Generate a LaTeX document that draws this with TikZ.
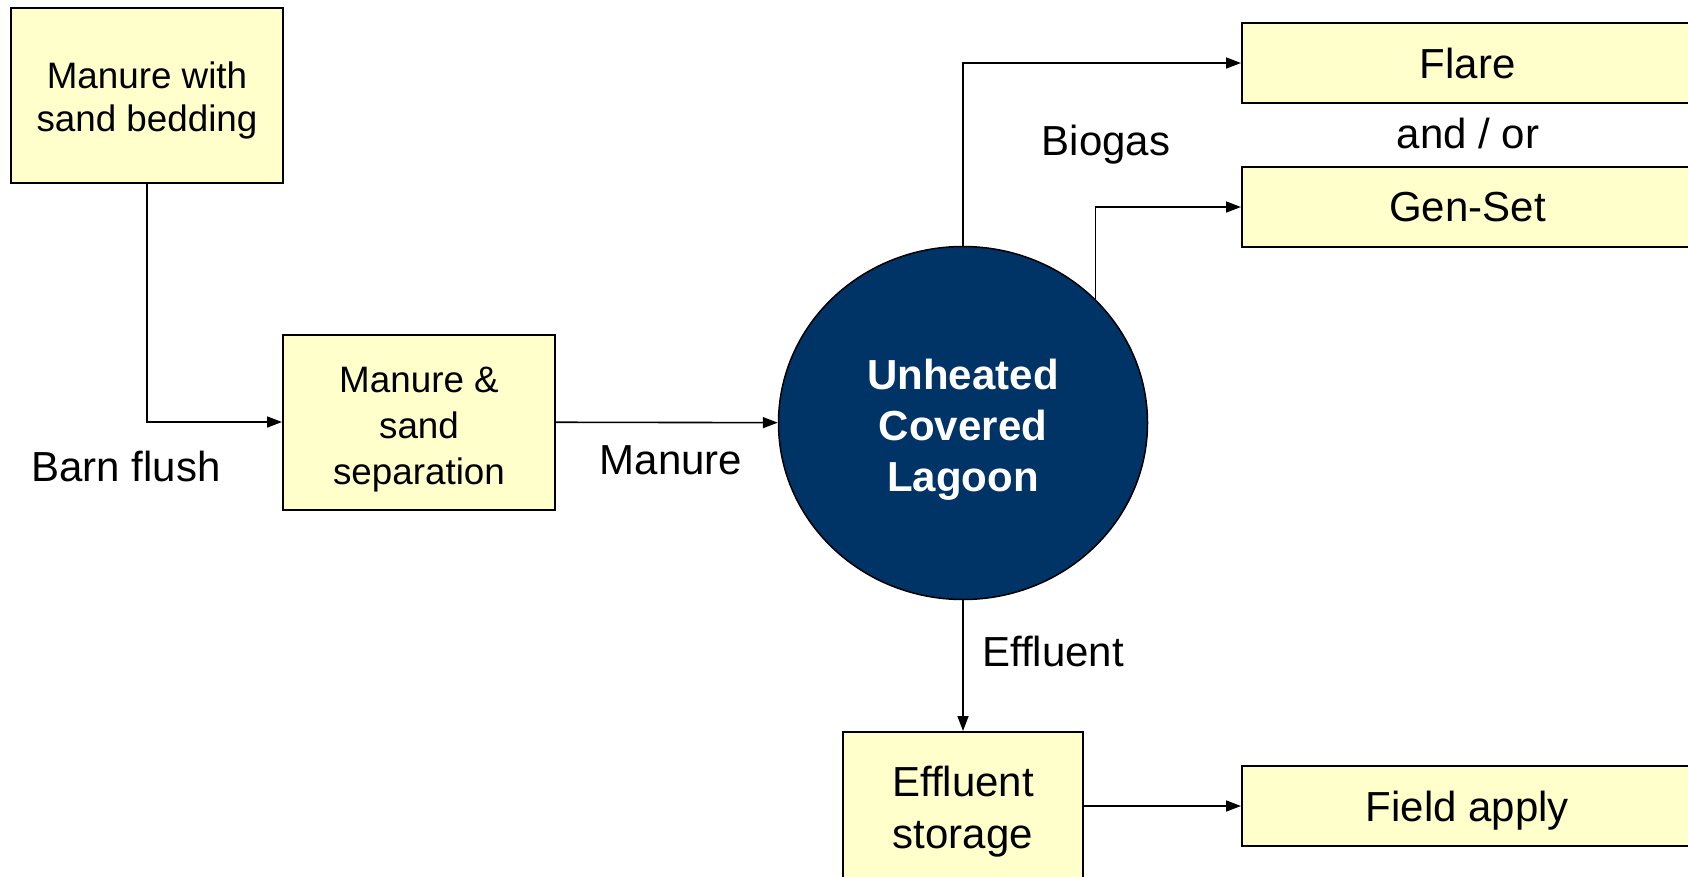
\documentclass[tikz,border=0pt]{standalone}
\usepackage{fontspec}
\setmainfont{Liberation Sans}
\usetikzlibrary{arrows.meta, shapes.geometric}
\definecolor{boxfill}{HTML}{FFFFCC}
\definecolor{pondblue}{HTML}{003366}
\newcommand{\capgap}[1]{\rule{0pt}{#1}}

\begin{document}
\begin{tikzpicture}[x=1pt,y=-1pt,>={Triangle[length=15pt,width=11pt]},line width=1.6pt,
  box node/.style={rectangle,fill=boxfill,draw,line width=2pt,align=center,inner sep=0pt,font=\fontsize{36.8}{44}\selectfont},
  wide node/.style={box node,minimum width=451pt,minimum height=80pt,text depth=0pt,font=\fontsize{42}{51}\selectfont},
  pond node/.style={ellipse,fill=pondblue,draw,line width=1.5pt,minimum width=369pt,minimum height=353pt,inner sep=0pt,align=center,text=white,font=\fontsize{42}{51}\selectfont\bfseries},
  tag node/.style={font=\fontsize{42}{51}\selectfont,inner sep=0pt}]
  \useasboundingbox[fill=white] (0,0) rectangle (1688,876);
  \clip (0,0) rectangle (1688,876);
  \node[box node,minimum width=272pt,minimum height=175pt,font=\fontsize{36.8}{43}\selectfont] (barn) at (147,95) {\capgap{38pt}Manure with\\sand bedding};
  \node[box node,minimum width=272pt,minimum height=175pt,font=\fontsize{36.8}{46}\selectfont] (sep) at (419,422) {\capgap{40pt}Manure \&\\sand\\separation};
  \node[pond node] (lagoon) at (963,423) {\capgap{44pt}Unheated\\Covered\\Lagoon};
  \node[wide node] (flare) at (1467.5,63) {Flare};
  \node[wide node] (genset) at (1467.5,207) {Gen-Set};
  \node[box node,minimum width=240pt,minimum height=148pt,font=\fontsize{42}{52}\selectfont] (storage) at (963,806) {\capgap{42pt}Effluent\\storage};
  \node[wide node] (field) at (1467.5,806) {Field apply};
  % flow labels
  \node[tag node] (flush) at (126,466) {Barn flush};
  \node[tag node] (manure) at (671,460) {Manure};
  \node[tag node] (biogas) at (1106,144.5) {Biogas};
  \node[tag node] (andor) at (1468,133) {and / or};
  \node[tag node] (effluent) at (1053,651) {Effluent};
  % connectors
  \draw[->] (barn) |- (sep);
  \draw[->] (sep) -- (lagoon);
  \draw[->] (lagoon) |- (flare);
  \draw[->] (lagoon.43) |- (genset);
  \draw[->] (lagoon) -- (storage);
  \draw[->] (storage) -- (field);
\end{tikzpicture}
\end{document}
